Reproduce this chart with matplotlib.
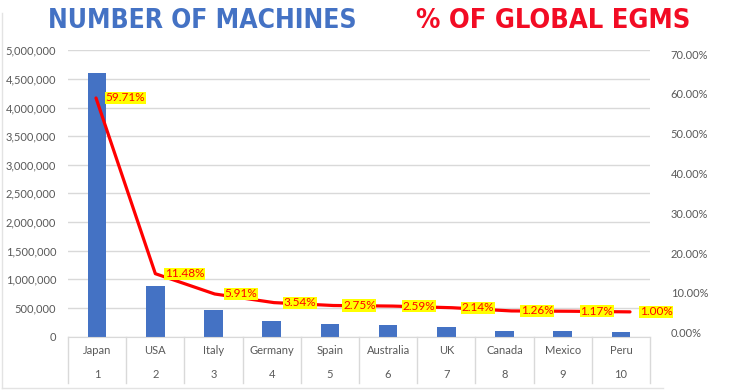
import numpy as np
import matplotlib
matplotlib.use("Agg")
import matplotlib.pyplot as plt
from matplotlib.lines import Line2D
from matplotlib.ticker import FuncFormatter, MultipleLocator
from matplotlib.transforms import blended_transform_factory

# data
countries = ["Japan", "USA", "Italy", "Germany", "Spain",
             "Australia", "UK", "Canada", "Mexico", "Peru"]
ranks = ["1", "2", "3", "4", "5", "6", "7", "8", "9", "10"]
machines = [4600000, 885000, 455000, 272000, 212000,
            199000, 165000, 97000, 90000, 77000]
share_pct = [59.71, 11.48, 5.91, 3.54, 2.75, 2.59, 2.14, 1.26, 1.17, 1.00]

BLUE = "#4472C4"
RED = "#FF0000"
GRAY_TXT = "#595959"
GRID = "#D9D9D9"

W, H = 735, 390
plt.rcParams["font.family"] = ["Lato", "DejaVu Sans"]

fig = plt.figure(figsize=(W / 100, H / 100), dpi=100)

# plot area in pixels
x0, x1, y_top, y_bot = 68, 650, 50.3, 336.5
rect = [x0 / W, 1 - y_bot / H, (x1 - x0) / W, (y_bot - y_top) / H]

ax = fig.add_axes(rect)
xs = np.arange(len(countries))
ax.bar(xs, machines, width=0.32, color=BLUE, zorder=2)
ax.set_xlim(-0.5, len(countries) - 0.5)
ax.set_ylim(0, 5000000)
ax.yaxis.set_major_locator(MultipleLocator(500000))
ax.yaxis.set_major_formatter(FuncFormatter(lambda v, p: f"{int(v):,}"))
ax.grid(axis="y", color=GRID, linewidth=1, zorder=0)
ax.set_xticks([])
for s in ["top", "right", "left"]:
    ax.spines[s].set_visible(False)
ax.spines["bottom"].set_color(GRID)
ax.tick_params(axis="y", length=0, pad=8.5, labelsize=8, labelcolor=GRAY_TXT)

# category table under the axis
trans = blended_transform_factory(ax.transData, ax.transAxes)
tab_h = (383 - y_bot) / (y_bot - y_top)
for b in np.arange(-0.5, len(countries), 1.0):
    ax.plot([b, b], [0, -tab_h], transform=trans, color=GRID,
            linewidth=1, clip_on=False)
row1 = -(351 - y_bot) / (y_bot - y_top)
row2 = -(375 - y_bot) / (y_bot - y_top)
for i, (c, r) in enumerate(zip(countries, ranks)):
    ax.text(i, row1, c, transform=trans, ha="center", va="center",
            fontsize=8, color=GRAY_TXT)
    ax.text(i, row2, r, transform=trans, ha="center", va="center",
            fontsize=8, color=GRAY_TXT)

# right-hand percentage labels
ax_r = fig.add_axes(rect, frameon=False)
ax_r.set_ylim(-0.955, 70.93)
ax_r.set_xticks([])
ax_r.yaxis.tick_right()
ax_r.set_yticks(np.arange(0, 71, 10))
ax_r.yaxis.set_major_formatter(FuncFormatter(lambda v, p: f"{v:.2f}%"))
ax_r.tick_params(axis="y", length=0, pad=15, labelsize=8, labelcolor=GRAY_TXT)

# share line
ax_l = fig.add_axes(rect, frameon=False)
ax_l.set_xlim(-0.472, 9.337)
ax_l.set_ylim(-5.76, 72.8)
ax_l.set_xticks([])
ax_l.set_yticks([])
ax_l.plot(xs, share_pct, color=RED, linewidth=2.3, solid_joinstyle="round",
          solid_capstyle="round", zorder=3)
for x, v in zip(xs, share_pct):
    ax_l.annotate(f"{v:.2f}%", (x, v), xytext=(7, 0), textcoords="offset points",
                  ha="left", va="center", fontsize=8.5, color=RED,
                  bbox=dict(boxstyle="square,pad=0.05", fc="#FFFF00", ec="none"),
                  zorder=4)

# titles
fig.text(202 / W, 1 - 21 / H, "NUMBER OF MACHINES", ha="center", va="center",
         fontsize=19, fontweight="bold", fontstretch="condensed", color=BLUE,
         family="DejaVu Sans")
fig.text(553 / W, 1 - 21 / H, "% OF GLOBAL EGMS", ha="center", va="center",
         fontsize=19.5, fontweight="bold", fontstretch="condensed", color="#F20C24",
         family="DejaVu Sans")

# faint outer frame (left and bottom)
fig.add_artist(Line2D([1.5 / W, 1.5 / W], [1 - 13 / H, 1 - 388 / H],
                      color="#E3E3E3", linewidth=1))
fig.add_artist(Line2D([1.5 / W, 663 / W], [1 - 388 / H, 1 - 388 / H],
                      color="#E3E3E3", linewidth=1))

fig.savefig("out.png", dpi=100)
